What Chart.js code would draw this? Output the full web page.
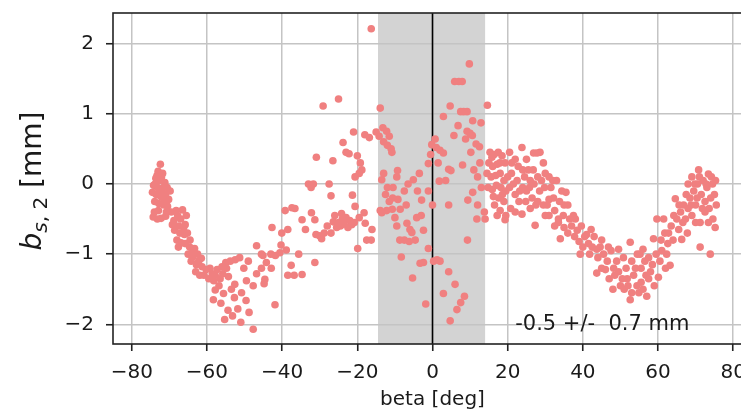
<!DOCTYPE html>
<html>
<head>
<meta charset="utf-8">
<script src="https://cdn.jsdelivr.net/npm/chart.js@4"></script>
<style>
  html, body { margin: 0; padding: 0; background: #fff; }
  #wrap { width: 741px; height: 415px; overflow: hidden; position: relative; }
  canvas { display: block; }
</style>
</head>
<body>
<div id="wrap"><canvas id="c" width="800" height="415"></canvas></div>
<script>
'use strict';
// ---------- data: [beta (deg), b_s2 (mm)] ----------
const leftArm = [
    [-72.4,0.28],[-73.0,0.18],[-71.8,0.15],[-73.6,0.08],[-72.6,0.05],[-71.2,0.02],[-74.2,-0.02],[-73.1,-0.05],
    [-72.0,-0.08],[-70.6,-0.05],[-74.5,-0.12],[-73.5,-0.15],[-72.3,-0.18],[-71.0,-0.15],[-70.2,-0.22],[-73.9,-0.25],
    [-72.8,-0.28],[-71.5,-0.3],[-70.5,-0.32],[-72.1,0.1],[-73.3,0.12],[-71.4,-0.22],[-69.8,-0.1],[-72.9,-0.38],[-70.8,-0.4],
    [-74.3,-0.47],[-73.2,-0.5],[-72.2,-0.49],[-71.0,-0.46],
    [-69.5,-0.4],[-68.2,-0.38],[-66.5,-0.37],[-65.5,-0.45],[-67.0,-0.5],[-68.8,-0.52],[-65.8,-0.58],[-67.5,-0.6],
    [-68.6,-0.66],[-67.2,-0.7],[-66.0,-0.72],[-68.0,-0.8],[-66.9,-0.84],[-64.5,-0.8],
    [-73.8,0.0],[-72.5,-0.12],[-71.6,-0.05],[-70.9,-0.28],[-74.0,-0.4],[-69.2,-0.58],[-67.8,-0.45],[-66.2,-0.62],
    [-65.2,-0.7],[-67.6,-0.9],
];
const leftTrough = [
    [-65.8,-0.85],[-64.6,-0.9],[-63.3,-0.92],[-65.0,-1.0],[-63.8,-1.04],[-62.5,-1.0],[-61.5,-1.06],[-64.2,-1.1],
    [-62.8,-1.15],[-61.3,-1.18],[-63.0,-1.25],[-61.9,-1.3],[-60.2,-1.22],[-59.5,-1.35],
    [-58.6,-1.28],[-57.3,-1.22],[-56.0,-1.18],[-55.0,-1.12],[-53.8,-1.1],[-52.5,-1.08],[-51.3,-1.05],[-57.8,-1.3],
    [-56.5,-1.35],[-54.3,-1.32],
    [-57.8,-1.51],[-55.6,-1.56],[-56.3,-1.70],[-52.6,-1.43],[-49.5,-1.38],[-47.7,-1.45],[-52.7,-1.62],[-49.6,-1.66],
    [-51.8,-1.78],[-48.8,-1.83],[-55.3,-1.93],[-51.0,-1.97],[-47.7,-2.07],[-58.3,-1.65],[-54.4,-1.8],[-53.2,-1.88],
    [-50.8,-1.55],[-56.8,-1.45],
    [-63.6,-0.95],[-62.2,-1.1],[-60.8,-1.3],[-59.2,-1.2],[-58.2,-1.38],[-55.8,-1.28],[-54.8,-1.2],[-53.5,-1.5],
    [-50.2,-1.2],[-49.0,-1.1],
];
const leftRise = [
    [-46.8,-0.88],[-45.1,-1.02],[-44.2,-1.12],[-45.5,-1.2],[-46.8,-1.28],[-44.6,-1.36],
    [-45.5,-1.0],[-43.0,-1.0],[-41.8,-1.02],[-40.6,-0.98],[-44.8,-1.42],[-42.9,-1.2],[-42.7,-0.62],[-40.1,-0.7],
    [-40.3,-0.87],[-38.9,-0.94],[-41.9,-1.72],[-37.6,-1.16],[-38.5,-1.3],[-36.8,-1.3],[-34.7,-1.29],[-35.6,-1.0],
    [-31.3,-1.12],
    [-39.2,-0.38],[-36.6,-0.35],[-37.4,-0.34],[-32.2,-0.41],[-34.7,-0.51],[-31.3,-0.51],[-38.5,-0.65],[-33.8,-0.65],
    [-31.0,-0.72],[-30.0,-0.74],[-28.8,-0.7],[-29.5,-0.78],[-27.0,-0.7],
];
const centerLeft = [
    [-26.4,-0.54],[-25.0,-0.55],[-24.0,-0.5],[-23.0,-0.48],[-22.0,-0.52],[-21.5,-0.58],[-24.5,-0.6],[-25.5,-0.62],
    [-23.5,-0.57],[-20.6,-0.32],[-19.5,-0.48],[-18.2,-0.41],[-17.9,-0.56],[-16.1,-0.65],[-17.5,-0.8],[-16.3,-0.8],
    [-19.9,-0.92],[-33.0,0.0],[-32.3,-0.05],[-31.7,0.0],[-27.5,0.0],[-27.0,-0.17],[-21.3,-0.16],[-30.9,0.38],
    [-26.5,0.33],[-23.8,0.59],[-23.0,0.45],[-22.2,0.43],[-20.0,0.4],[-19.2,0.3],[-18.8,0.2],[-20.6,0.1],
    [-21.0,0.74],[-18.0,0.7],[-16.8,0.66],[-15.0,0.74],[-29.1,1.11],[-25.0,1.21],[-16.3,2.21],[-19.5,0.15],
    [-28.0,-0.6],[-26.0,-0.45],[-22.5,-0.62],[-20.8,-0.55],[-24.2,-0.42],
];
const bandLeft = [
    [-13.9,1.08],[-14.2,0.68],[-13.2,0.8],[-12.2,0.75],[-11.5,0.68],[-13.0,0.6],[-12.0,0.55],[-11.0,0.5],
    [-10.8,0.45],[-13.0,0.15],[-9.3,0.19],[-9.5,0.1],[-3.5,0.15],[-5.1,0.06],[-12.0,-0.05],[-10.5,-0.05],
    [-7.5,-0.1],[-1.1,-0.1],[-10.6,-0.2],[-9.2,-0.22],[-2.9,-0.23],[-13.9,-0.38],[-12.2,-0.38],[-10.7,-0.36],
    [-8.6,-0.36],[-4.2,-0.48],[-9.5,-0.6],[-6.8,-0.56],[-6.0,-0.65],[-5.5,-0.69],[-2.4,-0.66],[-8.7,-0.8],
    [-7.5,-0.8],[-6.2,-0.82],[-4.6,-0.8],[-1.1,-0.92],[-8.3,-1.04],[-3.3,-1.13],[-2.4,-1.12],[-5.3,-1.34],
    [-1.8,-1.71],[-1.1,0.29],[-0.2,0.56],[-0.5,0.42],[-13.5,-0.41],[-11.5,-0.25],[-10.0,-0.48],[-12.5,-0.15],
    [-13.5,0.06],[-7.0,-0.3],[-4.0,-0.1],[-6.5,0.0],[-3.0,-0.45],
];
const bandRight = [
    [0.0,-0.3],[0.7,0.64],[1.0,0.52],[2.0,0.48],[2.9,0.44],[1.8,0.04],[0.3,-1.1],[1.2,-1.08],[2.0,-1.1],
    [4.3,-0.3],[4.3,0.21],[4.9,0.19],[8.0,0.27],[12.6,0.3],[9.8,1.71],[5.9,1.46],[7.0,1.46],[7.9,1.46],
    [4.7,1.11],[2.9,0.96],[7.5,1.03],[8.3,1.03],[9.2,1.03],[10.7,0.9],[12.9,0.87],[6.8,0.83],[9.2,0.75],
    [10.0,0.72],[10.6,0.69],[5.7,0.69],[8.8,0.64],[11.6,0.57],[12.5,0.53],[10.7,-0.12],[9.4,-0.23],[9.3,-0.8],
    [4.3,-1.25],[6.0,-1.43],[2.9,-1.56],[8.5,-1.6],[7.5,-1.69],[6.5,-1.79],[4.7,-1.95],[12.0,0.1],[11.0,0.2],
    [13.0,-0.05],[12.0,-0.3],[1.5,0.3],[3.5,0.05],[11.8,-0.5],[10.2,0.45],
];
const rightShoulder = [
    [14.6,1.12],[15.3,0.45],[16.4,0.42],[17.5,0.45],[15.0,0.3],[16.0,0.25],[17.2,0.28],[18.5,0.4],[19.3,0.3],
    [14.5,0.15],[15.6,0.1],[16.8,0.12],[18.0,0.15],[19.0,0.05],[20.0,0.1],[21.1,0.3],[14.8,-0.05],[15.9,-0.08],
    [17.0,-0.02],[18.2,-0.05],[19.5,-0.1],[20.5,-0.05],[16.2,-0.18],[17.6,-0.2],[19.0,-0.25],[16.5,-0.3],
    [18.0,-0.38],[19.5,-0.45],[17.2,-0.45],[19.3,-0.51],[14.0,-0.5],[13.8,-0.4],[22.0,-0.15],[23.0,-0.25],
    [23.8,-0.43],[22.5,0.05],[23.8,0.52],[24.5,0.1],[25.5,0.2],[26.9,0.44],[27.8,0.44],[28.6,0.45],[26.0,0.05],
    [27.0,0.0],[28.0,0.1],[29.0,0.05],[30.0,0.15],[31.0,0.1],[32.0,0.05],[33.0,0.05],[34.4,-0.1],[25.0,-0.1],
    [26.5,-0.2],[28.0,-0.25],[29.5,-0.3],[31.0,-0.22],[27.3,-0.59],[26.0,-0.35],[30.0,-0.45],[32.5,-0.38],
    [33.5,-0.5],[35.0,-0.3],[24.0,-0.05],[21.5,0.0],[20.8,-0.35],[22.0,-0.4],[25.0,0.35],[24.0,0.2],[29.5,0.3],
    [31.5,-0.05],[20.5,0.45],[22.0,0.35],
    [21.0,0.15],[22.8,0.25],[23.2,-0.1],[24.8,-0.25],[25.8,-0.05],[26.8,0.2],[27.5,-0.3],[28.5,-0.1],
    [29.8,-0.05],[30.5,-0.3],[32.2,-0.2],[33.8,-0.25],[34.8,-0.45],[18.6,-0.15],[15.8,0.38],[17.9,0.3],
];
const rightSlope = [
    [31.0,-0.45],[32.5,-0.6],[33.5,-0.55],[34.0,-0.78],[35.0,-0.62],[36.0,-0.7],[36.5,-0.5],[37.0,-0.6],
    [37.8,-0.75],[38.5,-0.66],[39.3,-1.0],[39.0,-0.82],[40.0,-0.9],[41.0,-0.72],[41.5,-0.85],[42.5,-0.9],
    [43.0,-0.75],[43.7,-0.93],[43.7,-1.27],[44.6,-0.9],[45.5,-1.0],[46.5,-1.1],[47.5,-0.95],[48.2,-1.2],
    [36.0,-0.3],[37.5,-0.45],[35.5,-0.12],
    [38.0,-0.5],[39.6,-0.6],[40.5,-0.75],[41.8,-1.0],[42.2,-0.65],[44.0,-1.05],[45.0,-0.8],[46.8,-0.9],[47.0,-1.35],
];
const rightTrough = [
    [46.0,-1.22],[48.5,-1.3],[49.5,-0.93],[49.5,-1.25],[50.5,-1.35],[51.5,-1.2],[52.6,-0.83],[52.6,-1.65],
    [52.0,-1.45],[53.5,-1.3],[54.4,-1.45],[54.9,-1.55],[55.5,-1.4],[56.0,-1.5],[57.0,-1.6],[55.5,-1.2],
    [56.5,-1.1],[56.0,-0.93],[57.5,-1.05],[58.5,-1.15],[58.8,-0.78],[59.5,-1.0],[60.1,-1.33],[60.5,-1.1],
    [61.0,-0.95],[62.0,-1.2],[62.3,-1.0],[59.7,-0.5],[61.5,-0.5],[45.0,-1.2],[48.0,-1.5],[50.0,-1.45],
    [51.0,-1.5],[53.0,-1.1],[54.5,-1.0],[57.5,-1.35],
    [49.0,-1.1],[50.8,-1.05],[51.8,-1.35],[53.0,-1.55],[54.0,-1.2],[55.2,-1.0],[56.8,-1.3],[58.0,-1.25],
    [59.0,-1.45],[60.8,-0.8],[61.8,-0.7],[62.6,-0.85],
];
const rightArm = [
    [63.2,-1.16],[62.8,-0.7],[63.5,-0.6],[64.0,-0.8],[64.6,-0.21],[65.0,-0.5],[65.5,-0.65],[66.3,-0.79],
    [66.0,-0.4],[66.8,-0.3],[67.3,-0.5],[68.0,-0.35],[68.5,-0.2],[69.0,-0.45],[69.5,-0.1],[70.0,-0.3],
    [70.8,0.2],[70.5,0.0],[71.2,-0.55],[71.2,-0.9],[71.5,-0.15],[72.0,0.05],[72.5,-0.25],[73.0,-0.05],
    [73.4,0.14],[73.4,-0.55],[73.9,-1.0],[74.0,-0.2],[74.5,0.0],[75.0,-0.15],[75.2,-0.62],[75.5,-0.3],
    [68.0,0.0],[69.0,0.1],[70.0,-0.55],[67.5,-0.15],[72.5,-0.4],
    [64.2,-0.45],[65.6,-0.3],[66.6,-0.55],[67.8,-0.7],[68.8,-0.3],[69.8,0.0],[70.4,-0.2],[71.0,0.1],
    [71.8,-0.35],[72.8,0.0],[73.6,-0.35],[74.6,-0.5],[74.2,0.1],[75.3,0.05],
];

const xTicks = [-80, -60, -40, -20, 0, 20, 40, 60, 80];
const yTicks = [-2, -1, 0, 1, 2];
const xRange = [-85, 85];
const yRange = [-2.28, 2.435];
const band = [-14.5, 14];          // shaded beta window
const zeroLine = 0;
const note = { text: '-0.5 +/-  0.7 mm', x: 22, y: -2.085 };

const FONT = "'DejaVu Sans', sans-serif";
const INK = '#1a1a1a';

const points = [].concat(leftArm, leftTrough, leftRise, centerLeft, bandLeft,
                         bandRight, rightShoulder, rightSlope, rightTrough, rightArm)
                 .map(p => ({ x: p[0], y: p[1] }));

const minusify = v => String(v).replace('-', '\u2212');

// band under the grid, zero line under the dots, frame + texts on top
const decor = {
    id: 'decor',
    beforeDraw(chart) {
        const { ctx, chartArea: a, scales: { x } } = chart;
        ctx.save();
        ctx.fillStyle = '#d3d3d3';
        const l = x.getPixelForValue(band[0]), r = x.getPixelForValue(band[1]);
        ctx.fillRect(l, a.top, r - l, a.bottom - a.top);
        ctx.restore();
    },
    beforeDatasetsDraw(chart) {
        const { ctx, chartArea: a, scales: { x } } = chart;
        const px = x.getPixelForValue(zeroLine);
        ctx.save();
        ctx.strokeStyle = '#000';
        ctx.lineWidth = 1.6;
        ctx.beginPath();
        ctx.moveTo(px, a.top);
        ctx.lineTo(px, a.bottom);
        ctx.stroke();
        ctx.restore();
    },
    afterDraw(chart) {
        const { ctx, chartArea: a, scales: { x, y } } = chart;
        ctx.save();
        ctx.strokeStyle = '#222';
        ctx.lineWidth = 1.6;
        ctx.strokeRect(a.left, a.top, a.right - a.left, a.bottom - a.top);

        // annotation
        ctx.fillStyle = INK;
        ctx.font = '21px ' + FONT;
        ctx.textBaseline = 'alphabetic';
        ctx.textAlign = 'left';
        ctx.fillText(note.text, x.getPixelForValue(note.x), y.getPixelForValue(note.y));

        // y label: b_{s, 2} [mm]
        ctx.translate(41, 181);
        ctx.rotate(-Math.PI / 2);
        const parts = [
            { t: 'b',     f: 'italic 28px ' + FONT, dy: 0 },
            { t: 's',     f: 'italic 20px ' + FONT, dy: 6 },
            { t: ', 2',   f: '20px ' + FONT,        dy: 6 },
            { t: ' [mm]', f: '28px ' + FONT,        dy: 0 },
        ];
        let total = 0;
        parts.forEach(p => { ctx.font = p.f; p.w = ctx.measureText(p.t).width; total += p.w; });
        let cx = -total / 2;
        parts.forEach(p => { ctx.font = p.f; ctx.fillText(p.t, cx, p.dy); cx += p.w; });
        ctx.restore();
    },
};

new Chart(document.getElementById('c'), {
    type: 'scatter',
    data: {
        datasets: [{
            data: points,
            backgroundColor: '#f08080',
            borderColor: '#f08080',
            borderWidth: 0,
            pointRadius: 3.8,
            pointHoverRadius: 3.8,
        }],
    },
    options: {
        responsive: false,
        animation: false,
        devicePixelRatio: 1,
        layout: { padding: { left: 0, right: 48, top: 13, bottom: 0 } },
        plugins: { legend: { display: false }, tooltip: { enabled: false } },
        scales: {
            x: {
                type: 'linear',
                min: xRange[0], max: xRange[1],
                afterBuildTicks: s => { s.ticks = xTicks.map(v => ({ value: v })); },
                afterFit: s => { s.height = 71; s.paddingLeft = 0; s.paddingRight = 0; },
                border: { display: false },
                grid: { color: '#c4c4c4', lineWidth: 1.5, tickColor: '#222', tickLength: 7, tickWidth: 1.6 },
                ticks: { callback: minusify, color: INK, font: { family: FONT, size: 20 }, padding: 10, maxRotation: 0 },
                title: { display: true, text: 'beta [deg]', color: INK, font: { family: FONT, size: 20 }, padding: { top: 0, bottom: 3 } },
            },
            y: {
                type: 'linear',
                min: yRange[0], max: yRange[1],
                afterBuildTicks: s => { s.ticks = yTicks.map(v => ({ value: v })); },
                afterFit: s => { s.width = 113; s.paddingTop = 0; s.paddingBottom = 0; },
                border: { display: false },
                grid: { color: '#c4c4c4', lineWidth: 1.5, tickColor: '#222', tickLength: 7, tickWidth: 1.6 },
                ticks: { callback: minusify, color: INK, font: { family: FONT, size: 20 }, padding: 12 },
            },
        },
    },
    plugins: [decor],
});
</script>
</body>
</html>
